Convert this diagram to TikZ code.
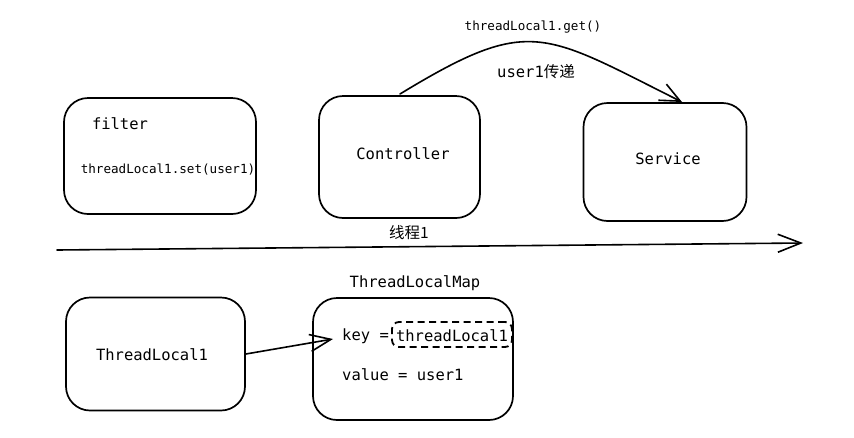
\documentclass[tikz,border=0pt]{standalone}
\usepackage{fontspec}
\setmonofont{DejaVu Sans Mono}
\newfontfamily\cjk{Noto Sans CJK SC}
\usetikzlibrary{arrows.meta}
\tikzset{
  box/.style={draw, line width=1.7pt, rounded corners=24pt, inner sep=0pt},
  lbl/.style={inner sep=0pt, font=\ttfamily\fontsize{15.5}{18}\selectfont},
  slbl/.style={inner sep=0pt, font=\ttfamily\fontsize{12.6}{15}\selectfont},
  conn/.style={line width=1.6pt, line cap=round},
  barb/.style={-{Straight Barb[length=20pt,width=18pt,line width=1.6pt]}},
}
\begin{document}
\begin{tikzpicture}[x=1pt,y=-1pt]
\useasboundingbox (0,0) rectangle (854,437);
% boxes
\node[box, minimum width=192pt, minimum height=116pt] (filter) at (160,156) {};
\node[box, minimum width=161pt, minimum height=122pt] (ctrl) at (399.5,157) {};
\node[box, minimum width=163pt, minimum height=118pt] (svc) at (665,162) {};
\node[box, minimum width=179pt, minimum height=113pt] (tl) at (155.5,354) {};
\node[box, minimum width=200pt, minimum height=122pt] (map) at (413,359) {};
\node[draw, line width=1.8pt, dash pattern=on 7pt off 4.5pt, rounded corners=7pt,
      minimum width=120pt, minimum height=25pt, inner sep=0pt] (dk) at (452,334.5) {};
% texts
\node[lbl] (tfilter) at (120,124) {filter};
\node[slbl] (tset) at (168,170) {threadLocal1.set(user1)};
\node[lbl] (tctrl) at (403,154) {Controller};
\node[lbl] (tsvc) at (668,159) {Service};
\node[slbl] (tget) at (533,27) {threadLocal1.get()};
\node[lbl] (tpass) at (536,72) {user1{\cjk 传递}};
\node[lbl] (tthread) at (409,233) {\cjk 线程1};
\node[lbl] (tmap) at (415,283) {ThreadLocalMap};
\node[lbl] (ttl) at (152,355) {ThreadLocal1};
\node[lbl, anchor=west] (tkey) at (342,336) {key =};
\node[lbl] (tkv) at (452,336) {threadLocal1};
\node[lbl, anchor=west] (tval) at (342,375) {value = user1};
% connectors
\coordinate (cs) at (400,94);
\coordinate (ce) at (682,102);
\draw[conn, barb] (cs) .. controls (530,15) and (542,32) .. (ce);
\coordinate (t0) at (57,250);
\coordinate (t1) at (803,243);
\draw[conn, -{Straight Barb[length=23pt,width=18pt,line width=1.6pt]}] (t0) -- (t1);
\coordinate (ae) at (333,339);
\draw[conn, -{Straight Barb[length=21pt,width=17pt,line width=1.6pt]}] (tl.east) -- (ae);
\end{tikzpicture}
\end{document}
